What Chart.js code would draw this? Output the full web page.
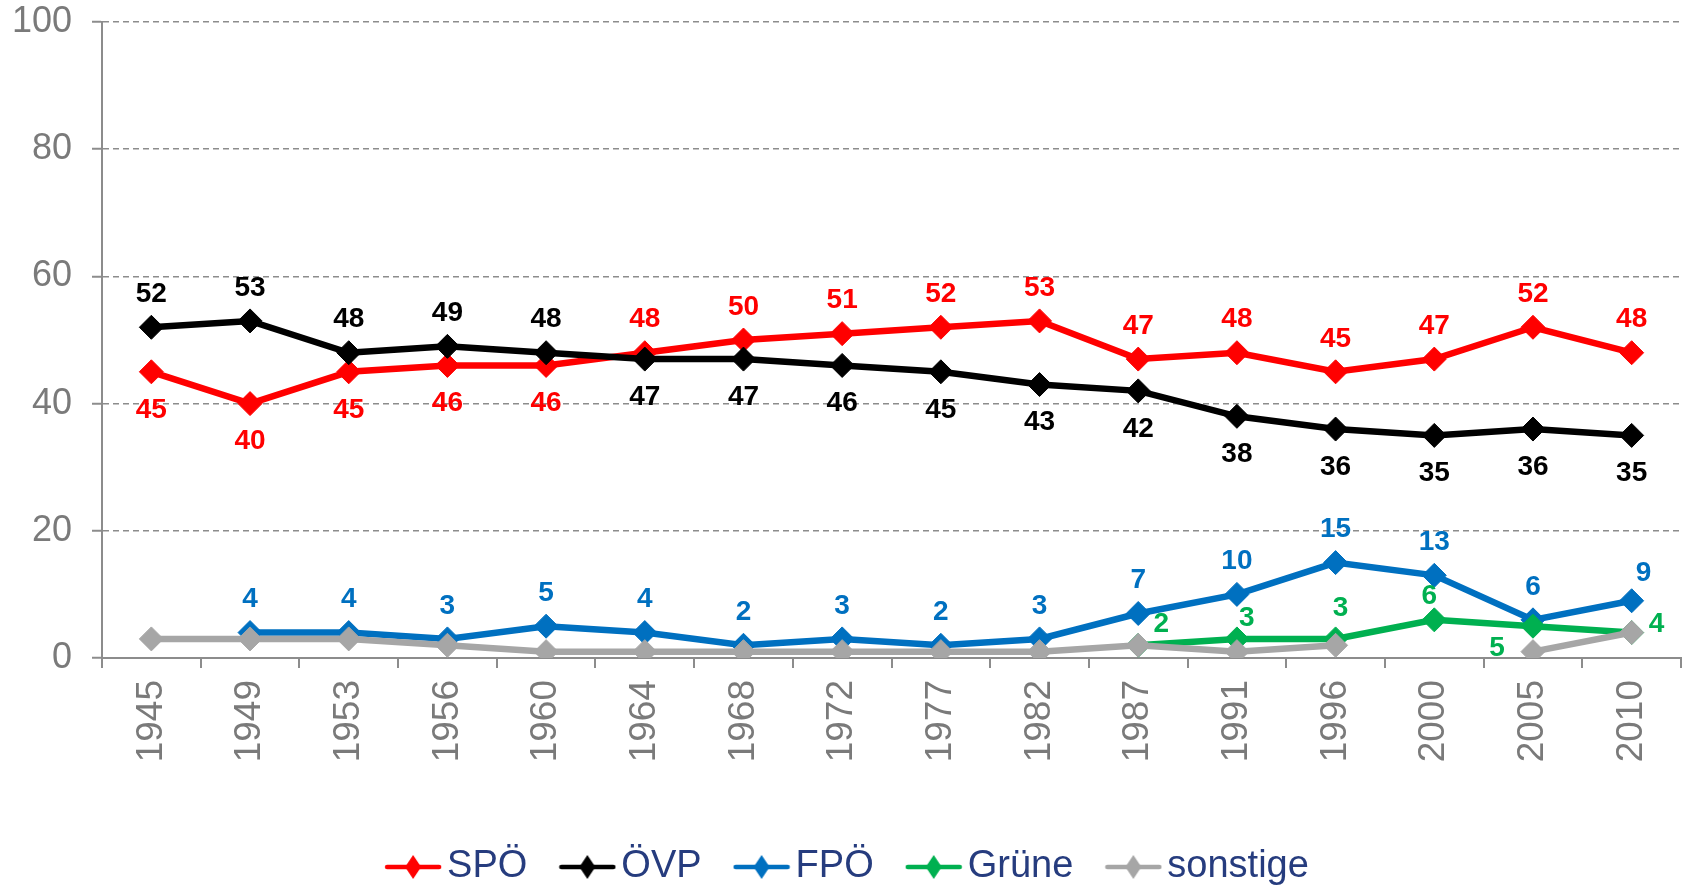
<!DOCTYPE html>
<html>
<head>
<meta charset="utf-8">
<script src="https://cdn.jsdelivr.net/npm/chart.js@4.4.1/dist/chart.umd.min.js"></script>
<style>
html,body{margin:0;padding:0;background:#ffffff;}
#wrap{width:1694px;height:889px;position:relative;}
</style>
</head>
<body>
<div id="wrap"><canvas id="c"></canvas></div>
<script>
// ---- data ----
const years = ['1945','1949','1953','1956','1960','1964','1968','1972','1977','1982','1987','1991','1996','2000','2005','2010'];
const spo      = [45,40,45,46,46,48,50,51,52,53,47,48,45,47,52,48];
const ovp      = [52,53,48,49,48,47,47,46,45,43,42,38,36,35,36,35];
const fpo      = [null,4,4,3,5,4,2,3,2,3,7,10,15,13,6,9];
const grune    = [null,null,null,null,null,null,null,null,null,null,2,3,3,6,5,4];
const sonstige = [3,3,3,2,1,1,1,1,1,1,2,1,2,null,1,4];
const yTicks   = [0,20,40,60,80,100];
const seriesNames = ['SPÖ','ÖVP','FPÖ','Grüne','sonstige'];

// ---- label placement (not data) ----
const spoLabelPos   = ['below','below','below','below','below','above','above','above','above','above','above','above','above','above','above','above'];
const ovpLabelPos   = ['above','above','above','above','above','below','below','below','below','below','below','below','below','below','below','below'];
const fpoLabelPos   = ['above','above','above','above','above','above','above','above','above','above','above','above','above','above','above',[12,-27]];
const gruneLabelPos = [null,null,null,null,null,null,null,null,null,null,[23,-21],[10,-21],[5,-31],[-5,-24],[-36,22],[25,-8]];

const colors = {spo:'#FF0000', ovp:'#000000', fpo:'#0070C0', grune:'#00B050', sonstige:'#A6A6A6'};
const FONT = '"Liberation Sans", Arial, Helvetica, sans-serif';

function lineDataset(label, data, color, order) {
  return {
    label, data, order,
    borderColor: color, backgroundColor: color,
    borderWidth: 6.5,
    pointStyle: 'rectRot', pointRadius: 12, pointHoverRadius: 12,
    pointBackgroundColor: color, pointBorderColor: color, pointBorderWidth: 1,
    tension: 0, spanGaps: false, fill: false
  };
}

const labelConfig = [
  {pos: spoLabelPos, color: colors.spo},
  {pos: ovpLabelPos, color: colors.ovp},
  {pos: fpoLabelPos, color: colors.fpo},
  {pos: gruneLabelPos, color: colors.grune},
  null
];

const pointLabels = {
  id: 'pointLabels',
  afterDatasetsDraw(chart) {
    const ctx = chart.ctx;
    ctx.save();
    ctx.font = 'bold 28px ' + FONT;
    ctx.textAlign = 'center';
    ctx.textBaseline = 'middle';
    chart.data.datasets.forEach((ds, di) => {
      const cfg = labelConfig[di];
      if (!cfg) return;
      const meta = chart.getDatasetMeta(di);
      meta.data.forEach((pt, i) => {
        const v = ds.data[i];
        const pos = cfg.pos[i];
        if (v == null || pos == null) return;
        let dx = 0, dy = 0;
        if (pos === 'above') dy = -33;
        else if (pos === 'below') dy = 38;
        else { dx = pos[0]; dy = pos[1]; }
        ctx.fillStyle = cfg.color;
        ctx.fillText(String(v), pt.x + dx, pt.y + dy);
      });
    });
    ctx.restore();
  }
};

// shift the legend row slightly to the right, as in the reference
const legendShift = {
  id: 'legendShift',
  afterLayout(chart) {
    if (chart.legend) chart.legend.left = 16;
  }
};

function legendMarker(color) {
  const c = document.createElement('canvas');
  c.width = 58; c.height = 26;
  const g = c.getContext('2d');
  g.strokeStyle = color; g.lineWidth = 4.5; g.lineCap = 'round';
  g.beginPath(); g.moveTo(3, 13); g.lineTo(55, 13); g.stroke();
  g.fillStyle = color;
  g.beginPath(); g.moveTo(29, 1); g.lineTo(37, 13); g.lineTo(29, 25); g.lineTo(21, 13); g.closePath(); g.fill();
  return c;
}
const markerColors = [colors.spo, colors.ovp, colors.fpo, colors.grune, colors.sonstige];
const markers = markerColors.map(legendMarker);

new Chart(document.getElementById('c'), {
  type: 'line',
  data: {
    labels: years,
    datasets: [
      lineDataset(seriesNames[0], spo, colors.spo, 5),
      lineDataset(seriesNames[1], ovp, colors.ovp, 4),
      lineDataset(seriesNames[2], fpo, colors.fpo, 3),
      lineDataset(seriesNames[3], grune, colors.grune, 2),
      lineDataset(seriesNames[4], sonstige, colors.sonstige, 1)
    ]
  },
  options: {
    responsive: true,
    maintainAspectRatio: false,
    animation: false,
    devicePixelRatio: 1,
    layout: {padding: {top: 22, right: 3, left: 0, bottom: 0}},
    scales: {
      x: {
        type: 'category',
        offset: true,
        grid: {display: true, drawOnChartArea: false, drawTicks: true, tickLength: 10, color: '#8c8c8c', lineWidth: 2, offset: true},
        border: {display: true, color: '#8c8c8c', width: 2},
        ticks: {color: '#7a7a7a', font: {family: FONT, size: 37}, minRotation: 90, maxRotation: 90, padding: 12, autoSkip: false},
        afterFit: (s) => { s.height = 145; s.paddingLeft = 0; s.paddingRight = 0; }
      },
      y: {
        min: 0, max: 100,
        afterBuildTicks: (s) => { s.ticks = yTicks.map(v => ({value: v})); },
        grid: {color: '#8c8c8c', lineWidth: 1.5, tickLength: 10, tickColor: '#8c8c8c', tickWidth: 2, tickBorderDash: []},
        border: {display: true, color: '#8c8c8c', width: 2, dash: [6, 4]},
        ticks: {color: '#7a7a7a', font: {family: FONT, size: 36}, padding: 20},
        afterFit: (s) => { s.width = 102; s.paddingTop = 0; s.paddingBottom = 0; }
      }
    },
    plugins: {
      tooltip: {enabled: false},
      legend: {
        display: true,
        position: 'bottom',
        maxHeight: 86,
        labels: {
          usePointStyle: true,
          pointStyleWidth: 30,
          padding: 45,
          color: '#263c7e',
          font: {family: FONT, size: 38},
          sort: (a, b) => a.datasetIndex - b.datasetIndex,
          generateLabels: (chart) => {
            const items = Chart.defaults.plugins.legend.labels.generateLabels(chart);
            items.forEach(it => { it.pointStyle = markers[it.datasetIndex]; });
            return items;
          }
        }
      }
    }
  },
  plugins: [pointLabels, legendShift]
});
</script>
</body>
</html>
